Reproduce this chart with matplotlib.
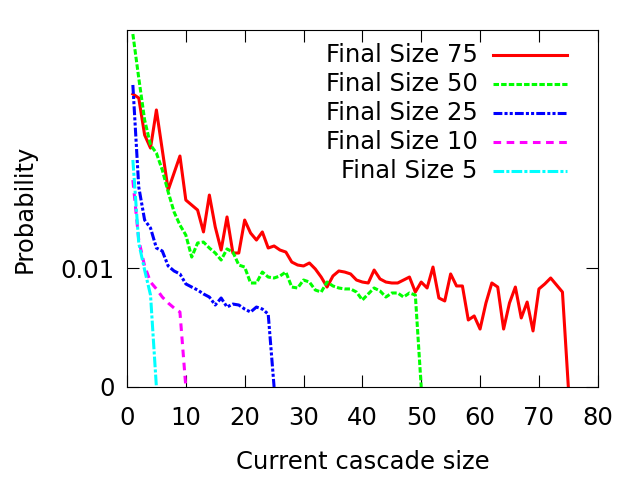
import matplotlib
matplotlib.use("Agg")
import matplotlib.pyplot as plt

# probability vs current cascade size, one curve per final size
p75 = [0.02462, 0.02429, 0.02118, 0.02008, 0.02328, 0.01992, 0.01655, 0.01798, 0.01941, 0.01571,
       0.01529, 0.01487, 0.01303, 0.01613, 0.01345, 0.01151, 0.01429, 0.01126, 0.01126, 0.01403,
       0.01294, 0.01235, 0.01303, 0.01168, 0.01185, 0.01151, 0.01134, 0.01050, 0.01025, 0.01017,
       0.01042, 0.00992, 0.00924, 0.00840, 0.00933, 0.00975, 0.00966, 0.00950, 0.00899, 0.00882,
       0.00874, 0.00983, 0.00908, 0.00882, 0.00874, 0.00874, 0.00899, 0.00924, 0.00798, 0.00882,
       0.00832, 0.01008, 0.00748, 0.00723, 0.00950, 0.00849, 0.00849, 0.00563, 0.00597, 0.00487,
       0.00706, 0.00874, 0.00840, 0.00487, 0.00706, 0.00840, 0.00580, 0.00714, 0.00471, 0.00824,
       0.00866, 0.00916, 0.00857, 0.00798, 0.0]
p50 = [0.02966, 0.02597, 0.02244, 0.02034, 0.01966, 0.01824, 0.01639, 0.01471, 0.01361, 0.01277,
       0.01092, 0.01210, 0.01218, 0.01168, 0.01126, 0.01067, 0.01160, 0.01134, 0.01025, 0.01008,
       0.00874, 0.00874, 0.00966, 0.00924, 0.00916, 0.00933, 0.00966, 0.00840, 0.00832, 0.00899,
       0.00882, 0.00815, 0.00798, 0.00882, 0.00849, 0.00832, 0.00824, 0.00824, 0.00798, 0.00731,
       0.00782, 0.00832, 0.00807, 0.00756, 0.00790, 0.00790, 0.00756, 0.00790, 0.00773, 0.0]
p25 = [0.02538, 0.01681, 0.01403, 0.01336, 0.01168, 0.01143, 0.01017, 0.00975, 0.00950, 0.00866,
       0.00840, 0.00815, 0.00782, 0.00756, 0.00689, 0.00748, 0.00672, 0.00697, 0.00689, 0.00655,
       0.00630, 0.00672, 0.00655, 0.00613, 0.0]
p10 = [0.01739, 0.01235, 0.01017, 0.00882, 0.00824, 0.00756, 0.00706, 0.00664, 0.00630, 0.0]
p5 = [0.01908, 0.01210, 0.00983, 0.00773, 0.0]

series = [
    ("Final Size 75", p75, "#ff0000", None),
    ("Final Size 50", p50, "#00ff00", (1.8, 0.7)),
    ("Final Size 25", p25, "#0000ff", (2.9, 0.7, 1.0, 0.7, 1.0, 0.7)),
    ("Final Size 10", p10, "#ff00ff", (2.5, 1.8)),
    ("Final Size 5", p5, "#00ffff", (3.5, 0.7, 1.0, 0.7)),
]

plt.rcParams["font.family"] = "DejaVu Sans"
plt.rcParams["font.size"] = 17.5

fig = plt.figure(figsize=(6.4, 4.8), dpi=100)
ax = fig.add_axes([0.1984, 0.19375, 0.7356, 0.74375])

for i, (label, vals, col, dash) in enumerate(series):
    xs = list(range(1, len(vals) + 1))
    line, = ax.plot(xs, vals, color=col, lw=2.2)
    if dash:
        line.set_dashes(dash)
    # gnuplot-style key: right-aligned text, sample on the right
    yk = 0.93 - i * 0.0815
    ax.text(0.745, yk, label, transform=ax.transAxes, ha="right", va="center")
    sample, = ax.plot([0.777, 0.934], [yk, yk], transform=ax.transAxes, color=col, lw=2.2)
    if dash:
        sample.set_dashes(dash)

ax.set_xlim(0, 80)
ax.set_ylim(0, 0.03)
ax.set_xticks(range(0, 81, 10))
ax.set_yticks([0, 0.01])
ax.set_yticklabels(["0", "0.01"])
ax.tick_params(direction="in", length=8.5, width=0.8, top=True, right=True)
ax.tick_params(axis="x", pad=14)
ax.tick_params(axis="y", pad=9)
for s in ax.spines.values():
    s.set_linewidth(0.8)

ax.set_xlabel("Current cascade size", labelpad=14)
ax.set_ylabel("Probability", labelpad=17)

fig.savefig("out.png", dpi=100)
